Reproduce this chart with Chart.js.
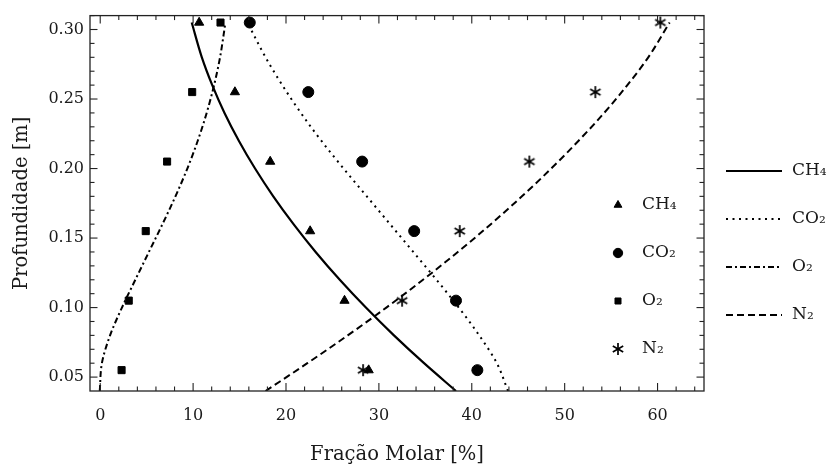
<!DOCTYPE html>
<html><head><meta charset="utf-8">
<script src="https://cdn.jsdelivr.net/npm/chart.js@4/dist/chart.umd.min.js"></script>
<style>html,body{margin:0;padding:0;background:#fff;} #c{display:block;}</style>
</head><body>
<canvas id="c" width="833" height="473"></canvas>
<script>
// ---- data ----
const xTicks = [0, 10, 20, 30, 40, 50, 60];
const yTicks = [0.05, 0.10, 0.15, 0.20, 0.25, 0.30];
const seriesNames = ['CH₄', 'CO₂', 'O₂', 'N₂'];

const depthMeasured = [0.055, 0.105, 0.155, 0.205, 0.255, 0.305];
const ch4Measured = [28.9, 26.3, 22.6, 18.3, 14.5, 10.65];
const co2Measured = [40.6, 38.3, 33.8, 28.2, 22.4, 16.1];
const o2Measured  = [2.3, 3.07, 4.9, 7.2, 9.9, 12.95];
const n2Measured  = [28.3, 32.5, 38.7, 46.2, 53.3, 60.3];

const depthModel = [0.04, 0.06, 0.08, 0.10, 0.12, 0.14, 0.16, 0.18, 0.20, 0.22, 0.24, 0.26, 0.28, 0.305];
const ch4Model = [38.3, 34.86, 31.62, 28.6, 25.79, 23.19, 20.81, 18.63, 16.67, 14.92, 13.38, 12.06, 10.94, 9.85];
const co2Model = [43.9, 42.7, 40.8, 38.6, 36.2, 33.7, 31.2, 28.7, 26.2, 23.8, 21.6, 19.6, 17.8, 15.85];
const o2Model  = [-0.05, 0.18, 1.06, 2.34, 3.78, 5.24, 6.7, 8.1, 9.38, 10.5, 11.46, 12.26, 12.9, 13.48];
const n2Model  = [17.8, 22.3, 26.65, 30.8, 34.75, 38.5, 42.05, 45.4, 48.55, 51.5, 54.25, 56.75, 59.0, 61.3];

// ---- styling ----
const FONT = 'DejaVu Serif';
const INK = '#1a1a1a';
const pts = (xs, ys) => xs.map((x, i) => ({x: x, y: ys[i]}));

const starImg = (() => {
  const c = document.createElement('canvas');
  c.width = 14; c.height = 14;
  const g = c.getContext('2d');
  g.strokeStyle = '#000'; g.lineWidth = 1.7;
  g.translate(7, 7);
  for (let k = 0; k < 3; k++) {
    const a = Math.PI / 2 + k * Math.PI / 3;
    g.beginPath();
    g.moveTo(Math.cos(a) * 6, Math.sin(a) * 6);
    g.lineTo(-Math.cos(a) * 6, -Math.sin(a) * 6);
    g.stroke();
  }
  return c;
})();

const lineDash = [[], [2, 4.5], [6, 3, 2, 3], [7, 4]];
const markerStyle = ['triangle', 'circle', 'rect', starImg];
const markerRadius = [5.3, 5.5, 5, 6];
const models = [ch4Model, co2Model, o2Model, n2Model];
const measured = [ch4Measured, co2Measured, o2Measured, n2Measured];

const datasets = [];
models.forEach((m, i) => datasets.push({
  label: seriesNames[i] + ' modelo',
  data: pts(m, depthModel),
  indexAxis: 'y',
  showLine: true,
  borderColor: '#000',
  borderWidth: i === 0 ? 2.2 : 2,
  borderDash: lineDash[i],
  pointRadius: 0,
  cubicInterpolationMode: 'monotone',
  fill: false
}));
measured.forEach((m, i) => datasets.push({
  label: seriesNames[i],
  data: pts(m, depthMeasured),
  showLine: false,
  pointStyle: markerStyle[i],
  pointRadius: markerRadius[i],
  backgroundColor: '#000',
  borderColor: '#000',
  borderWidth: 1
}));

// frame + inside ticks
const framePlugin = {
  id: 'frame',
  afterDatasetsDraw(chart) {
    const {ctx, chartArea: a, scales: {x, y}} = chart;
    ctx.save();
    ctx.strokeStyle = '#222';
    ctx.lineWidth = 1.3;
    ctx.strokeRect(a.left, a.top, a.right - a.left, a.bottom - a.top);
    ctx.lineWidth = 1.1;
    const tick = (x1, y1, x2, y2) => { ctx.beginPath(); ctx.moveTo(x1, y1); ctx.lineTo(x2, y2); ctx.stroke(); };
    for (let v = 0; v <= 64.001; v += 2) {
      const px = x.getPixelForValue(v);
      const major = Math.abs(v % 10) < 1e-6;
      const L = major ? 8 : 4.5;
      tick(px, a.bottom, px, a.bottom - L);
      tick(px, a.top, px, a.top + L);
    }
    for (let k = 5; k <= 31; k++) {
      const v = k / 100;
      const py = y.getPixelForValue(v);
      const major = k % 5 === 0;
      const L = major ? 7.5 : 4.5;
      tick(a.left, py, a.left + L, py);
      tick(a.right, py, a.right - L, py);
    }
    ctx.restore();
  }
};

// two legends: markers (inside) and model lines (outside)
const legendPlugin = {
  id: 'twoLegends',
  afterDraw(chart) {
    const ctx = chart.ctx;
    ctx.save();
    ctx.font = '17px "' + FONT + '"';
    ctx.textBaseline = 'middle';
    ctx.textAlign = 'left';
    const innerRows = [205, 253, 301, 349];
    const outerRows = [171, 219, 267, 315];
    for (let i = 0; i < 4; i++) {
      const ds = chart.data.datasets[4 + i];
      ctx.fillStyle = '#000';
      ctx.strokeStyle = '#000';
      ctx.lineWidth = 1;
      Chart.helpers.drawPoint(ctx, {pointStyle: ds.pointStyle, radius: ds.pointRadius * 0.85, rotation: 0, borderWidth: 1}, 618, innerRows[i]);
      ctx.fillStyle = INK;
      ctx.fillText(seriesNames[i], 642, innerRows[i]);

      const ls = chart.data.datasets[i];
      ctx.strokeStyle = '#000';
      ctx.lineWidth = ls.borderWidth;
      ctx.setLineDash(ls.borderDash);
      ctx.beginPath();
      ctx.moveTo(726, outerRows[i]);
      ctx.lineTo(782, outerRows[i]);
      ctx.stroke();
      ctx.setLineDash([]);
      ctx.fillText(seriesNames[i], 792, outerRows[i]);
    }
    ctx.restore();
  }
};

new Chart(document.getElementById('c'), {
  type: 'scatter',
  data: {datasets: datasets},
  options: {
    responsive: false,
    animation: false,
    devicePixelRatio: 1,
    layout: {padding: {top: 12, right: 129, bottom: 0, left: 0}},
    plugins: {legend: {display: false}, tooltip: {enabled: false}},
    scales: {
      x: {
        type: 'linear', min: -1.1, max: 65,
        afterBuildTicks: s => { s.ticks = xTicks.map(v => ({value: v})); },
        afterFit: s => { s.height = 82; },
        grid: {display: false, drawTicks: false},
        border: {display: false},
        ticks: {font: {family: FONT, size: 16}, color: INK, padding: 15, maxRotation: 0, autoSkip: false},
        title: {display: true, text: 'Fração Molar [%]', font: {family: FONT, size: 19.5}, color: INK, padding: {top: 0, bottom: 6}}
      },
      y: {
        type: 'linear', min: 0.04, max: 0.31,
        afterBuildTicks: s => { s.ticks = yTicks.map(v => ({value: v})); },
        afterFit: s => { s.width = 90; },
        grid: {display: false, drawTicks: false},
        border: {display: false},
        ticks: {font: {family: FONT, size: 16}, color: INK, padding: 6, autoSkip: false, callback: v => v.toFixed(2)},
        title: {display: true, text: 'Profundidade [m]', font: {family: FONT, size: 19.5}, color: INK, padding: {top: 10, bottom: 0}}
      }
    }
  },
  plugins: [framePlugin, legendPlugin]
});
</script>
</body></html>
